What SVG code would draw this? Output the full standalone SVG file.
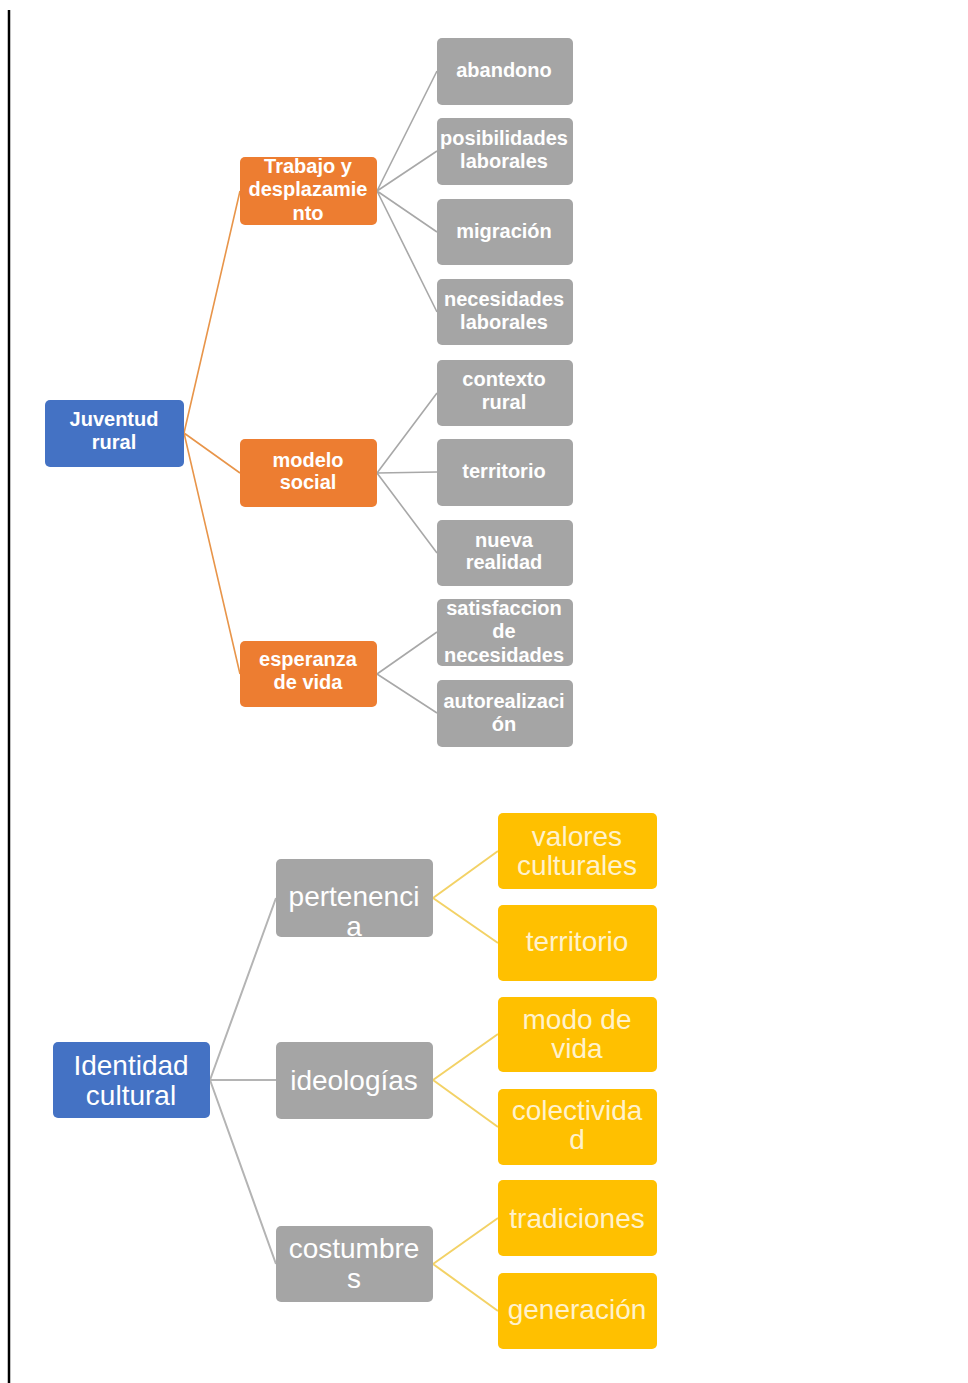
<svg xmlns="http://www.w3.org/2000/svg" width="968" height="1383" viewBox="0 0 968 1383">
<style>
.blue{fill:#4472c4}
.orange{fill:#ed7d31}
.gray{fill:#a5a5a5}
.yellow{fill:#ffc000}
.t1{font-family:"Liberation Sans",Arial,sans-serif;font-size:20px;font-weight:bold;fill:#ffffff;text-anchor:middle;dominant-baseline:central}
.t2{font-family:"Liberation Sans",Arial,sans-serif;font-size:28px;fill:#ffffff;text-anchor:middle;dominant-baseline:central}
.ty{fill:#fff2cc}
.co{stroke:#e8954a;stroke-width:1.6;fill:none}
.cg{stroke:#a8a8a8;stroke-width:1.6;fill:none}
.cg2{stroke:#b4b4b4;stroke-width:2;fill:none}
.cy{stroke:#f3d266;stroke-width:2;fill:none}
</style>
<rect width="968" height="1383" fill="#ffffff"/>
<line x1="9" y1="10" x2="9" y2="1383" stroke="#000" stroke-width="2.5"/>
<g id="connectors">
<path class="co" d="M184 433 L240 191 M184 433 L240 473 M184 433 L240 674"/>
<path class="cg" d="M377 191 L437 71 M377 191 L437 151 M377 191 L437 232 M377 191 L437 312"/>
<path class="cg" d="M377 473 L437 393 M377 473 L437 472 M377 473 L437 553"/>
<path class="cg" d="M377 674 L437 632 M377 674 L437 713"/>
<path class="cg2" d="M210 1080 L276 898 M210 1080 L276 1080 M210 1080 L276 1264"/>
<path class="cy" d="M433 898 L498 851 M433 898 L498 943"/>
<path class="cy" d="M433 1080 L498 1034 M433 1080 L498 1127"/>
<path class="cy" d="M433 1264 L498 1218 M433 1264 L498 1311"/>
</g>
<g id="juventud"><rect class="blue" x="45" y="400" width="139" height="67" rx="5"/><text class="t1" x="114" y="419">Juventud</text><text class="t1" x="114" y="442">rural</text></g>
<g id="trabajo"><rect class="orange" x="240" y="157" width="137" height="68" rx="5"/><text class="t1" x="308" y="166">Trabajo y</text><text class="t1" x="308" y="189">desplazamie</text><text class="t1" x="308" y="213">nto</text></g>
<g id="modelo"><rect class="orange" x="240" y="439" width="137" height="68" rx="5"/><text class="t1" x="308" y="460">modelo</text><text class="t1" x="308" y="482">social</text></g>
<g id="esperanza"><rect class="orange" x="240" y="641" width="137" height="66" rx="5"/><text class="t1" x="308" y="659">esperanza</text><text class="t1" x="308" y="682">de vida</text></g>
<g id="abandono"><rect class="gray" x="437" y="38" width="136" height="67" rx="5"/><text class="t1" x="504" y="70">abandono</text></g>
<g id="posibilidades"><rect class="gray" x="437" y="118" width="136" height="67" rx="5"/><text class="t1" x="504" y="138">posibilidades</text><text class="t1" x="504" y="161">laborales</text></g>
<g id="migracion"><rect class="gray" x="437" y="199" width="136" height="66" rx="5"/><text class="t1" x="504" y="231">migración</text></g>
<g id="necesidades"><rect class="gray" x="437" y="279" width="136" height="66" rx="5"/><text class="t1" x="504" y="299">necesidades</text><text class="t1" x="504" y="322">laborales</text></g>
<g id="contexto"><rect class="gray" x="437" y="360" width="136" height="66" rx="5"/><text class="t1" x="504" y="379">contexto</text><text class="t1" x="504" y="402">rural</text></g>
<g id="territorio1"><rect class="gray" x="437" y="439" width="136" height="67" rx="5"/><text class="t1" x="504" y="471">territorio</text></g>
<g id="nueva"><rect class="gray" x="437" y="520" width="136" height="66" rx="5"/><text class="t1" x="504" y="540">nueva</text><text class="t1" x="504" y="562">realidad</text></g>
<g id="satisfaccion"><rect class="gray" x="437" y="599" width="136" height="67" rx="5"/><text class="t1" x="504" y="608">satisfaccion</text><text class="t1" x="504" y="631">de</text><text class="t1" x="504" y="655">necesidades</text></g>
<g id="autorealizacion"><rect class="gray" x="437" y="680" width="136" height="67" rx="5"/><text class="t1" x="504" y="701">autorealizaci</text><text class="t1" x="504" y="724">ón</text></g>
<g id="identidad"><rect class="blue" x="53" y="1042" width="157" height="76" rx="5"/><text class="t2" x="131" y="1065">Identidad</text><text class="t2" x="131" y="1095">cultural</text></g>
<g id="pertenencia"><rect class="gray" x="276" y="859" width="157" height="78" rx="5"/><text class="t2" x="354" y="896">pertenenci</text><text class="t2" x="354" y="926">a</text></g>
<g id="ideologias"><rect class="gray" x="276" y="1042" width="157" height="77" rx="5"/><text class="t2" x="354" y="1080">ideologías</text></g>
<g id="costumbres"><rect class="gray" x="276" y="1226" width="157" height="76" rx="5"/><text class="t2" x="354" y="1248">costumbre</text><text class="t2" x="354" y="1278">s</text></g>
<g id="valores"><rect class="yellow" x="498" y="813" width="159" height="76" rx="5"/><text class="t2 ty" x="577" y="836">valores</text><text class="t2 ty" x="577" y="865">culturales</text></g>
<g id="territorio2"><rect class="yellow" x="498" y="905" width="159" height="76" rx="5"/><text class="t2 ty" x="577" y="941">territorio</text></g>
<g id="modo"><rect class="yellow" x="498" y="997" width="159" height="75" rx="5"/><text class="t2 ty" x="577" y="1019">modo de</text><text class="t2 ty" x="577" y="1048">vida</text></g>
<g id="colectividad"><rect class="yellow" x="498" y="1089" width="159" height="76" rx="5"/><text class="t2 ty" x="577" y="1110">colectivida</text><text class="t2 ty" x="577" y="1139">d</text></g>
<g id="tradiciones"><rect class="yellow" x="498" y="1180" width="159" height="76" rx="5"/><text class="t2 ty" x="577" y="1218">tradiciones</text></g>
<g id="generacion"><rect class="yellow" x="498" y="1273" width="159" height="76" rx="5"/><text class="t2 ty" x="577" y="1309">generación</text></g>
</svg>
